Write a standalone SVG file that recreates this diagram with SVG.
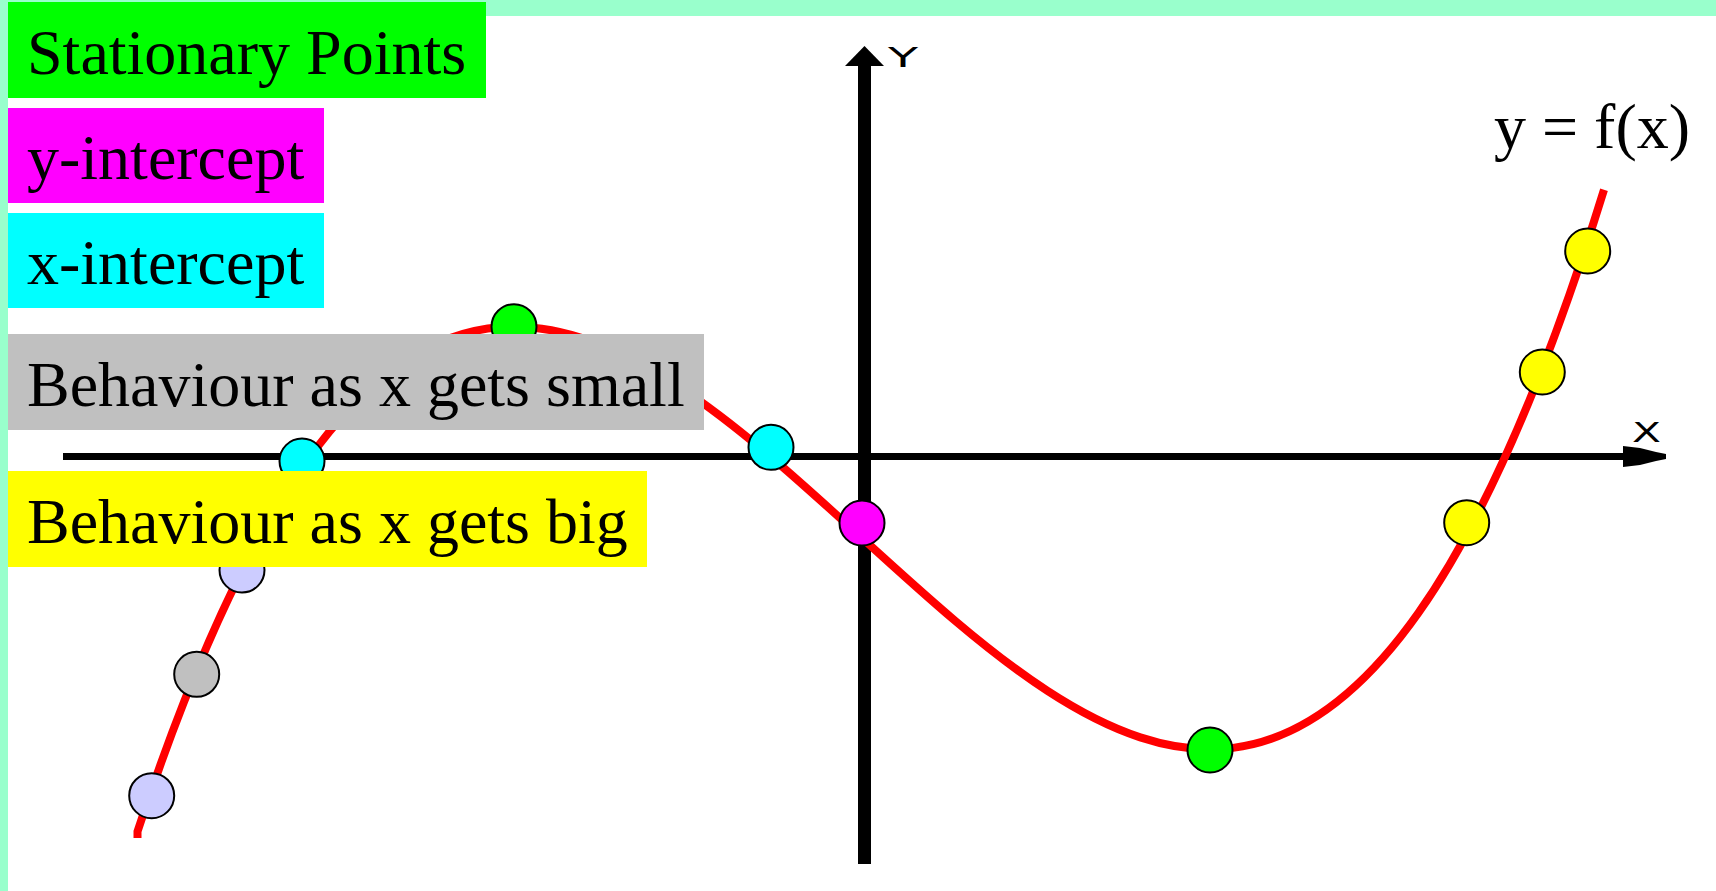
<svg xmlns="http://www.w3.org/2000/svg" width="1716" height="891" viewBox="0 0 1716 891">
<style>
.lbl{font-family:"Liberation Serif","Times New Roman",serif;font-size:64px;fill:#000}
.pt{stroke:#000;stroke-width:2}
.ax{stroke:#000;fill:none}
.axl{font-family:"DejaVu Sans","Liberation Sans",sans-serif;font-size:27px;fill:#000;font-weight:normal}
</style>
<rect x="0" y="0" width="1716" height="891" fill="#ffffff"/>
<rect x="0" y="0" width="1716" height="16" fill="#99ffcc"/>
<rect x="0" y="0" width="8" height="891" fill="#99ffcc"/>

<g id="axes">
  <line class="ax" x1="63" y1="456.5" x2="1626" y2="456.5" stroke-width="7"/>
  <polygon points="1623,446 1640,448 1656,452 1666,454 1666,459 1656,461 1640,465 1623,467" fill="#000"/>
  <line class="ax" x1="864.5" y1="62" x2="864.5" y2="864" stroke-width="13"/>
  <polygon points="864.5,46 884,66 845,66" fill="#000"/>
  <text class="axl" x="888" y="67" textLength="30" lengthAdjust="spacingAndGlyphs">Y</text>
  <text class="axl" x="1632" y="442" textLength="29" lengthAdjust="spacingAndGlyphs">X</text>
</g>

<g id="curve">
  <path d="M137.5,838 L137.5,831.5 C626.33,-653 1115.17,1768.5 1604,189.7" fill="none" stroke="#ff0000" stroke-width="8"/>
  <text class="lbl" x="1494" y="148">y = f(x)</text>
</g>

<g id="points">
  <circle id="p-small1" class="pt" cx="151.7" cy="795.7" r="22.5" fill="#ccccff"/>
  <circle id="p-small2" class="pt" cx="196.7" cy="674.3" r="22.5" fill="#c0c0c0"/>
  <circle id="p-small3" class="pt" cx="242" cy="570" r="22.5" fill="#ccccff"/>
  <circle id="p-xint1" class="pt" cx="302" cy="461" r="22.5" fill="#00ffff"/>
  <circle id="p-max" class="pt" cx="514" cy="326.7" r="22.5" fill="#00ff00"/>
  <circle id="p-xint2" class="pt" cx="771" cy="447.3" r="22.5" fill="#00ffff"/>
  <circle id="p-yint" class="pt" cx="862" cy="523" r="22.5" fill="#ff00ff"/>
  <circle id="p-min" class="pt" cx="1210" cy="750" r="22.5" fill="#00ff00"/>
  <circle id="p-big1" class="pt" cx="1466.7" cy="522.7" r="22.5" fill="#ffff00"/>
  <circle id="p-big2" class="pt" cx="1542.3" cy="372" r="22.5" fill="#ffff00"/>
  <circle id="p-big3" class="pt" cx="1587.7" cy="251" r="22.5" fill="#ffff00"/>
</g>

<g id="legend-stationary">
  <rect x="8" y="2" width="478" height="96" fill="#00ff00"/>
  <text class="lbl" x="27" y="74">Stationary Points</text>
</g>
<g id="legend-yint">
  <rect x="8" y="108" width="316" height="95" fill="#ff00ff"/>
  <text class="lbl" x="27" y="179">y-intercept</text>
</g>
<g id="legend-xint">
  <rect x="8" y="213" width="316" height="95" fill="#00ffff"/>
  <text class="lbl" x="27" y="284">x-intercept</text>
</g>
<g id="legend-small">
  <rect x="8" y="334" width="696" height="96" fill="#c0c0c0"/>
  <text class="lbl" x="27" y="406">Behaviour as x gets small</text>
</g>
<g id="legend-big">
  <rect x="8" y="471" width="639" height="96" fill="#ffff00"/>
  <text class="lbl" x="27" y="543">Behaviour as x gets big</text>
</g>
</svg>
